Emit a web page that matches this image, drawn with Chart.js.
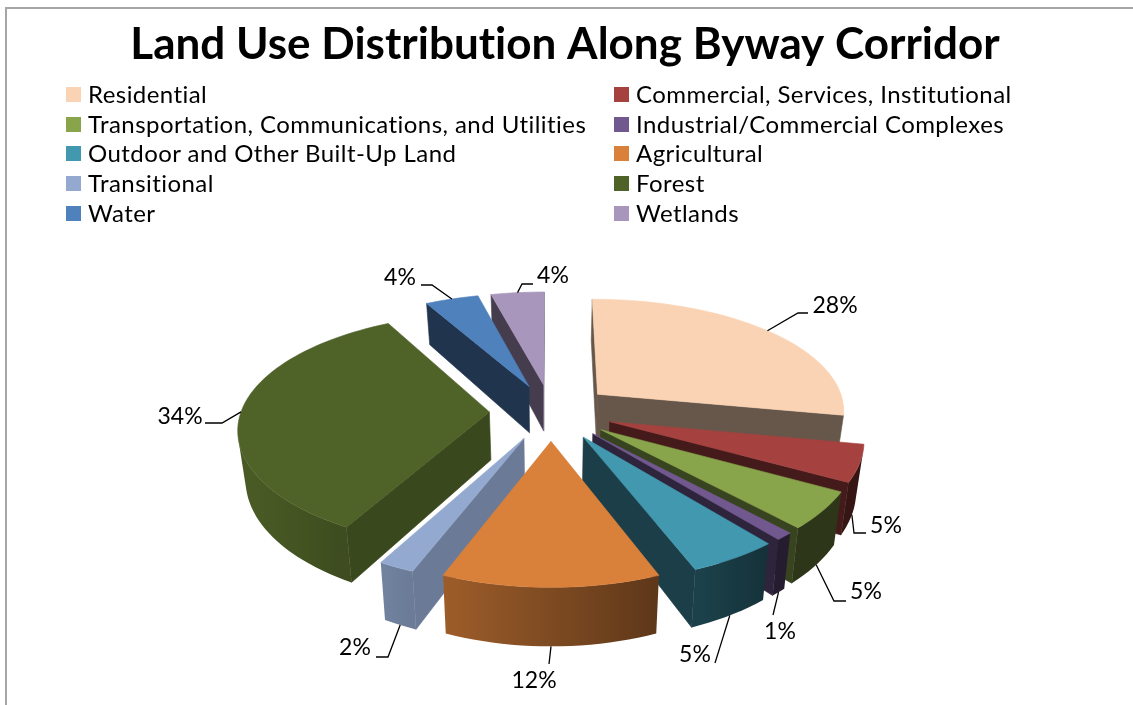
<!DOCTYPE html>
<html>
<head>
<meta charset="utf-8">
<title>Land Use Distribution Along Byway Corridor</title>
<script src="https://cdn.jsdelivr.net/npm/chart.js@4/dist/chart.umd.min.js"></script>
<style>
  html, body { margin: 0; padding: 0; background: #fff; }
  #wrap { position: relative; width: 1133px; height: 705px; overflow: hidden; }
  #frame { position: absolute; left: 5px; top: 7px; width: 1200px; height: 800px; border: 2px solid #a6a6a6; box-sizing: border-box; }
  canvas { position: absolute; left: 0; top: 0; }
  #leyenda { position: absolute; left: 0; top: 0; font-family: Lato, sans-serif; font-size: 24px; letter-spacing: 0.44px; color: #000; }
  .item { position: absolute; white-space: nowrap; line-height: 30px; height: 30px; }
  .item i { position: absolute; left: 0; top: 8px; width: 15px; height: 15px; }
  .item span { position: absolute; left: 22px; white-space: nowrap; }
</style>
</head>
<body>
<div id="wrap">
  <div id="frame"></div>
  <canvas id="grafico" width="1133" height="705"></canvas>
  <div id="leyenda"></div>
</div>
<script>
const categorias = [
  'Residential',
  'Commercial, Services, Institutional',
  'Transportation, Communications, and Utilities',
  'Industrial/Commercial Complexes',
  'Outdoor and Other Built-Up Land',
  'Agricultural',
  'Transitional',
  'Forest',
  'Water',
  'Wetlands'
];
const porcentajes = [28, 5, 5, 1, 5, 12, 2, 34, 4, 4];
const colores = ['#fad3b4', '#a5423f', '#89a54c', '#71588f', '#4198af', '#d9803a', '#93a9cf', '#4f6228', '#4f81bd', '#a896bc'];

// where each percentage goes, and the elbow points of its leader line
const etiquetas = [
  { x: 835, y: 306, codo: [[798, 313], [808, 313]], abajo: false },
  { x: 886, y: 526, codo: [[854, 533], [866, 533]], abajo: true },
  { x: 866, y: 592, codo: [[834, 601], [846, 601]], abajo: true },
  { x: 780, y: 632, codo: [[773, 615]], abajo: true },
  { x: 695, y: 655, codo: [[715, 663]], abajo: true },
  { x: 534, y: 681, codo: [[549, 664]], abajo: true },
  { x: 355, y: 648, codo: [[388, 657], [376, 657]], abajo: true },
  { x: 180, y: 417, codo: [[222, 423], [205, 423]], abajo: false },
  { x: 400, y: 278, codo: [[432, 285], [421, 285]], abajo: false },
  { x: 553, y: 276, codo: [[522, 284], [533, 284]], abajo: false }
];

// projection of the pie plane: far side shrinks, walls hang below the top face
const desvioX = -14;
const escalaX = 1.622;
const escalaY = 0.746;
const fuga = 0.15;
const fugaX = 0.13;
const alturaPared = 48;
const encogePie = 0.975;

function oscurecer(hex, f) {
  const n = parseInt(hex.slice(1), 16);
  const r = Math.round(((n >> 16) & 255) * f);
  const g = Math.round(((n >> 8) & 255) * f);
  const b = Math.round((n & 255) * f);
  return `rgb(${r}, ${g}, ${b})`;
}

function proyectar(arc, u, v, abajo) {
  const w = 1 + fuga * v;
  const x = escalaX * arc.outerRadius * u / (1 + fugaX * v);
  const y = -escalaY * arc.outerRadius * v / w;
  if (abajo) return [arc.x + desvioX + x * encogePie, arc.y + y + alturaPared / w];
  return [arc.x + desvioX + x, arc.y + y];
}

function relleno(ctx, puntos, color) {
  ctx.beginPath();
  puntos.forEach((p, i) => (i ? ctx.lineTo(p[0], p[1]) : ctx.moveTo(p[0], p[1])));
  ctx.closePath();
  ctx.fillStyle = color;
  ctx.fill();
  if (typeof color === 'string') {
    ctx.strokeStyle = color;
    ctx.lineWidth = 0.6;
    ctx.stroke();
  }
}

// positive when the polygon faces the viewer
function areaFirmada(p) {
  let a = 0;
  for (let i = 0; i < p.length; i++) {
    const q = p[(i + 1) % p.length];
    a += p[i][0] * q[1] - q[0] * p[i][1];
  }
  return a;
}

function geometria(arc) {
  const d = arc.options.offset / arc.outerRadius;
  const ini = arc.startAngle + Math.PI / 2;
  const fin = arc.endAngle + Math.PI / 2;
  const medio = (ini + fin) / 2;
  return { ini, fin, medio, ox: d * Math.sin(medio), oy: d * Math.cos(medio) };
}

function dibujarPorcion(ctx, arc, color) {
  const g = geometria(arc);
  const borde = (t, abajo) => proyectar(arc, g.ox + Math.sin(t), g.oy + Math.cos(t), abajo);
  const centro = abajo => proyectar(arc, g.ox, g.oy, abajo);
  const pasos = Math.max(2, Math.ceil((g.fin - g.ini) / (Math.PI / 90)));

  // cut faces: the ones turned to the left are the dark ones
  const cara1 = [centro(false), centro(true), borde(g.ini, true), borde(g.ini, false)];
  if (areaFirmada(cara1) > 0) relleno(ctx, cara1, oscurecer(color, Math.sin(g.ini - Math.PI / 2) < 0 ? 0.41 : 0.73));
  const cara2 = [centro(false), borde(g.fin, false), borde(g.fin, true), centro(true)];
  if (areaFirmada(cara2) > 0) relleno(ctx, cara2, oscurecer(color, Math.sin(g.fin + Math.PI / 2) < 0 ? 0.41 : 0.73));

  // outer wall, shaded across x by the direction each part faces
  const arriba = [];
  const debajo = [];
  const tonos = [];
  for (let i = 0; i < pasos; i++) {
    const a = g.ini + (g.fin - g.ini) * i / pasos;
    const b = g.ini + (g.fin - g.ini) * (i + 1) / pasos;
    const tira = [borde(a, false), borde(a, true), borde(b, true), borde(b, false)];
    if (areaFirmada(tira) <= 0) continue;
    if (!arriba.length) {
      arriba.push(tira[0]);
      debajo.push(tira[1]);
    }
    arriba.push(tira[3]);
    debajo.push(tira[2]);
    tonos.push({ x: (tira[0][0] + tira[3][0]) / 2, f: Math.min(0.92, Math.max(0.33, 0.58 - 0.4 * Math.sin((a + b) / 2))) });
  }
  if (arriba.length > 1) {
    const xs = arriba.map(p => p[0]);
    const x0 = Math.min(...xs);
    const x1 = Math.max(...xs);
    const grad = ctx.createLinearGradient(x0, 0, x1, 0);
    tonos.forEach(t => grad.addColorStop(Math.min(1, Math.max(0, (t.x - x0) / (x1 - x0))), oscurecer(color, t.f)));
    relleno(ctx, arriba.concat(debajo.slice().reverse()), grad);
  }

  // top face
  const tapa = [centro(false)];
  for (let i = 0; i <= pasos; i++) tapa.push(borde(g.ini + (g.fin - g.ini) * i / pasos, false));
  relleno(ctx, tapa, color);
}

const pastel3d = {
  id: 'pastel3d',
  beforeDraw(chart) {
    // a tiny spacing keeps "ti" from joining in the title
    chart.ctx.letterSpacing = '0.01px';
  },
  beforeDatasetsDraw(chart) {
    const ctx = chart.ctx;
    const arcos = chart.getDatasetMeta(0).data.map((arc, i) => ({ arc, i }));
    // far slices first so the near ones paint over them
    arcos.sort((a, b) => Math.cos(geometria(b.arc).medio) - Math.cos(geometria(a.arc).medio));
    ctx.save();
    arcos.forEach(o => dibujarPorcion(ctx, o.arc, colores[o.i]));
    ctx.restore();
    return false;
  },
  afterDraw(chart) {
    const ctx = chart.ctx;
    ctx.save();
    chart.getDatasetMeta(0).data.forEach((arc, i) => {
      const g = geometria(arc);
      const et = etiquetas[i];
      const inicio = proyectar(arc, g.ox + Math.sin(g.medio), g.oy + Math.cos(g.medio), et.abajo);
      ctx.beginPath();
      ctx.moveTo(inicio[0], inicio[1]);
      et.codo.forEach(p => ctx.lineTo(p[0], p[1]));
      ctx.strokeStyle = '#000';
      ctx.lineWidth = 1.3;
      ctx.stroke();
      ctx.fillStyle = '#000';
      ctx.font = '23px Lato, sans-serif';
      ctx.textAlign = 'center';
      ctx.textBaseline = 'middle';
      ctx.fillText(porcentajes[i] + '%', et.x, et.y);
    });
    ctx.restore();
  }
};

new Chart(document.getElementById('grafico').getContext('2d'), {
  type: 'pie',
  data: {
    labels: categorias,
    datasets: [{
      label: 'Land use',
      data: porcentajes,
      backgroundColor: colores,
      borderWidth: 0,
      offset: 38
    }]
  },
  options: {
    responsive: false,
    animation: false,
    layout: { padding: { left: 0, right: 3, top: 0, bottom: 121 } },
    plugins: {
      legend: { display: false },
      tooltip: { enabled: false },
      title: {
        display: true,
        text: 'Land Use Distribution Along Byway Corridor',
        color: '#000',
        font: { family: 'Lato, sans-serif', size: 44, weight: 'bold', lineHeight: 1.2 },
        padding: { top: 18, bottom: 169 },
        align: 'center'
      }
    }
  },
  plugins: [pastel3d]
});

// two-column legend, filled row by row
const leyenda = document.getElementById('leyenda');
categorias.forEach((nombre, i) => {
  const item = document.createElement('div');
  item.className = 'item';
  item.style.left = (i % 2 ? 614 : 66) + 'px';
  item.style.top = (80 + Math.floor(i / 2) * 29.6 - 0.8) + 'px';
  item.innerHTML = `<i style="background:${colores[i]}"></i><span>${nombre}</span>`;
  leyenda.appendChild(item);
});
</script>
</body>
</html>
